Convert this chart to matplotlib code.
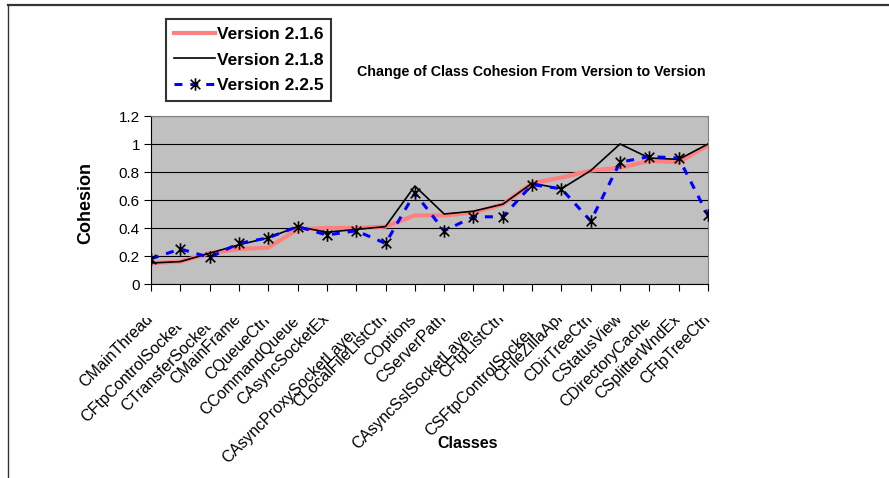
import matplotlib
matplotlib.use("Agg")
import matplotlib.pyplot as plt
from matplotlib.path import Path
from matplotlib.lines import Line2D
from matplotlib.transforms import Bbox, blended_transform_factory

# ---- data -------------------------------------------------------------
classes = [
    "CMainThread", "CFtpControlSocket", "CTransferSocket", "CMainFrame",
    "CQueueCtrl", "CCommandQueue", "CAsyncSocketEx", "CAsyncProxySocketLayer",
    "CLocalFileListCtrl", "COptions", "CServerPath", "CAsyncSslSocketLayer",
    "CFtpListCtrl", "CSFtpControlSocket", "CFileZillaApi", "CDirTreeCtrl",
    "CStatusView", "CDirectoryCache", "CSplitterWndEx", "CFtpTreeCtrl",
]
v216 = [0.15, 0.16, 0.22, 0.25, 0.26, 0.39, 0.40, 0.40, 0.41, 0.49,
        0.49, 0.51, 0.57, 0.72, 0.76, 0.81, 0.83, 0.88, 0.87, 0.99]
v218 = [0.15, 0.16, 0.22, 0.28, 0.33, 0.41, 0.37, 0.39, 0.41, 0.70,
        0.50, 0.52, 0.57, 0.72, 0.68, 0.81, 1.00, 0.90, 0.89, 1.00]
v225 = [0.18, 0.25, 0.19, 0.29, 0.33, 0.41, 0.35, 0.38, 0.29, 0.65,
        0.38, 0.48, 0.48, 0.71, 0.68, 0.45, 0.87, 0.91, 0.90, 0.49]
series_names = ["Version 2.1.6", "Version 2.1.8", "Version 2.2.5"]
yticks = [0, 0.2, 0.4, 0.6, 0.8, 1.0, 1.2]
ytick_labels = ["0", "0.2", "0.4", "0.6", "0.8", "1", "1.2"]

# extra downward shift (pixels) of the longer category labels
label_drop = [0, 8, 8, 0, 2, 2, 0, 14, 0, 0, 0, 13, 0, 14, 0, 0, 0, 2, 0, 0]

plt.rcParams["font.family"] = ["Liberation Sans", "DejaVu Sans"]

W, H, DPI = 889, 478, 100
fig = plt.figure(figsize=(W / DPI, H / DPI), dpi=DPI)
fig.patch.set_facecolor("white")

L, R, T, B = 151, 708, 116, 284
ax = fig.add_axes([L / W, 1 - B / H, (R - L) / W, (B - T) / H])
ax.set_facecolor("#C0C0C0")

x = list(range(len(classes)))

# asterisk-like marker: an X crossed by a vertical stroke
star = Path([(-1, -1), (1, 1), (-1, 1), (1, -1), (0, -1.3), (0, 1.3)],
            [Path.MOVETO, Path.LINETO, Path.MOVETO, Path.LINETO,
             Path.MOVETO, Path.LINETO])

ax.plot(x, v216, color="#FF8080", lw=3.0, label=series_names[0], zorder=3)
ax.plot(x, v218, color="black", lw=1.2, label=series_names[1], zorder=4)
ax.plot(x, v225, color="#0000FF", lw=2.2, dashes=(2.6, 2.6),
        marker=star, markersize=9, markerfacecolor="none",
        markeredgecolor="black", markeredgewidth=1.2,
        label=series_names[2], zorder=5)

ax.set_xlim(0, len(classes) - 1)
ax.set_ylim(0, 1.2)
ax.set_yticks(yticks)
ax.set_yticklabels(ytick_labels, fontsize=11)
ax.set_xticks(x)
ax.set_xticklabels([])
ax.yaxis.grid(True, color="black", lw=0.8)
ax.set_axisbelow(True)
ax.tick_params(axis="y", direction="out", length=5, width=0.8, pad=3)
ax.tick_params(axis="x", direction="out", length=5, width=0.8)
for side in ("left", "bottom"):
    ax.spines[side].set_color("black")
    ax.spines[side].set_linewidth(0.8)
for side in ("top", "right"):
    ax.spines[side].set_color("#808080")
    ax.spines[side].set_linewidth(0.8)

# rotated category labels, clipped along a horizontal line under the axis
trans = blended_transform_factory(ax.transData, fig.transFigure)
top_px = 311
clip_px = 318
for i, name in enumerate(classes):
    d = label_drop[i]
    t = fig.text(i - 0.2, 1 - (top_px + d) / H, name, transform=trans,
                 rotation=45, rotation_mode="anchor", ha="right", va="top",
                 fontsize=11.5)
    t.set_clip_box(Bbox.from_extents(0, 0, W, H - (clip_px + d)))
    t.set_clip_on(True)

fig.text(86 / W, 1 - 203 / H, "Cohesion", rotation=90, ha="center",
         va="center", fontsize=13, fontweight="bold")
fig.text(468 / W, 1 - 443 / H, "Classes", ha="center", va="center",
         fontsize=11.5, fontweight="bold")
fig.text(531 / W, 1 - 72 / H, "Change of Class Cohesion From Version to Version",
         ha="center", va="center", fontsize=10.3, fontweight="bold")

leg = fig.legend(loc="upper left", bbox_to_anchor=(166 / W, 1 - 19 / H),
                 bbox_transform=fig.transFigure, frameon=True, fancybox=False,
                 edgecolor="black", borderpad=0.45, labelspacing=0.6,
                 handlelength=2.4, handletextpad=0.08, borderaxespad=0,
                 prop={"weight": "bold", "size": 12.5})
leg.get_frame().set_linewidth(1.5)

# outer frame strokes along the top and left edges
fig.add_artist(Line2D([8 / W, 1], [1 - 5 / H, 1 - 5 / H], transform=fig.transFigure,
                      color="#333333", lw=1.6))
fig.add_artist(Line2D([8 / W, 8 / W], [1 - 5 / H, 0], transform=fig.transFigure,
                      color="#333333", lw=1.0))

fig.savefig("out.png", dpi=DPI, facecolor="white")
